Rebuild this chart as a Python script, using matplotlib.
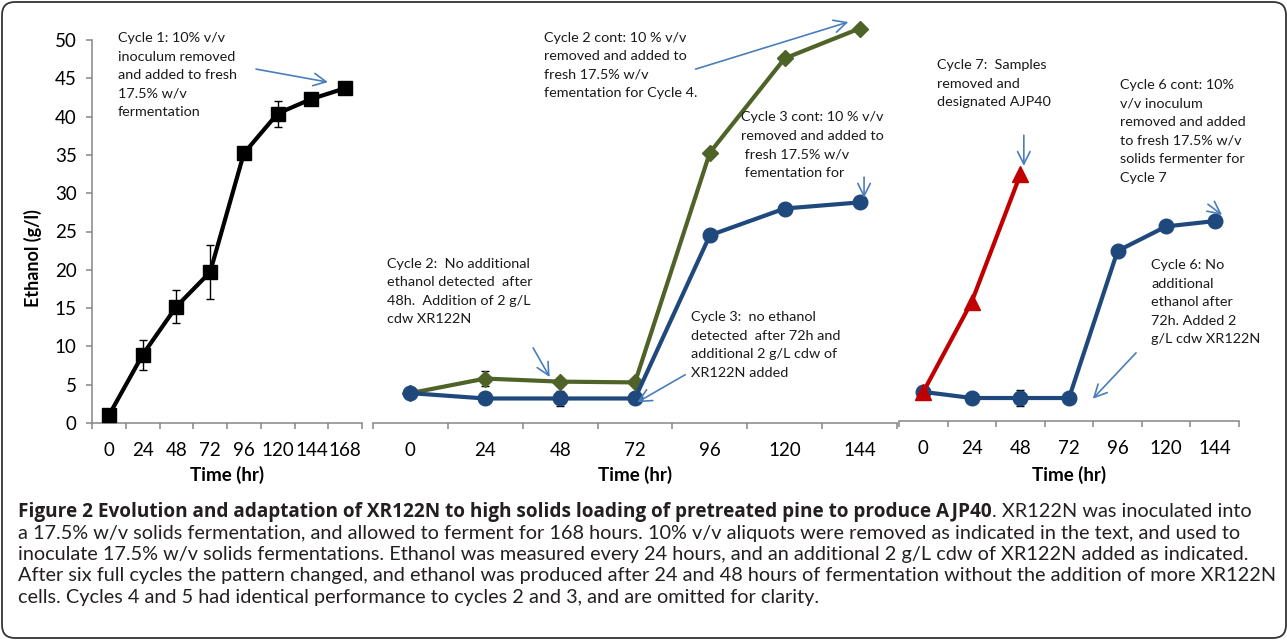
import numpy as np
import matplotlib
matplotlib.use("Agg")
import matplotlib.pyplot as plt
from matplotlib.patches import FancyBboxPatch
from matplotlib.transforms import IdentityTransform

W, H = 1287, 641

# cycle 1 (168 h run)
c1_times = ['0', '24', '48', '72', '96', '120', '144', '168']
c1_ethanol = [1.0, 8.9, 15.2, 19.7, 35.2, 40.4, 42.3, 43.7]
c1_err = [0.2, 2.0, 2.2, 3.5, 0.6, 1.7, 0.4, 0.4]

# cycles 2 and 3
c23_times = ['0', '24', '48', '72', '96', '120', '144']
c2_ethanol = [3.9, 5.8, 5.4, 5.3, 35.3, 47.6, 51.5]
c2_err = [0.2, 1.0, 0.5, 0.3, 0.3, 0.3, 0.3]
c3_ethanol = [3.9, 3.2, 3.2, 3.2, 24.5, 28.0, 28.8]
c3_err = [0.2, 0.2, 1.0, 0.2, 0.2, 0.2, 0.2]

# cycles 6 and 7
c67_times = ['0', '24', '48', '72', '96', '120', '144']
c6_ethanol = [3.8, 3.0, 3.0, 3.0, 22.2, 25.4, 26.1]
c6_err = [0.2, 0.2, 1.1, 0.2, 0.2, 0.2, 0.2]
c7_ethanol = [3.8, 15.6, 32.2]

FONT = 'Lato'
BLACK = '#000000'
GREEN = '#4F6228'
BLUE = '#1F497D'
RED = '#C00000'
ARROW = '#4A7EBB'
AXIS = '#868686'
PX_PER_UNIT = 7.66

plt.rcParams['font.family'] = [FONT, 'DejaVu Sans']

fig = plt.figure(figsize=(W / 100, H / 100), dpi=100)


def px_axes(x0, x1, bottom, ymax):
    top = bottom - ymax * PX_PER_UNIT
    ax = fig.add_axes([x0 / W, 1 - bottom / H, (x1 - x0) / W, (bottom - top) / H])
    ax.set_ylim(0, ymax)
    ax.patch.set_alpha(0)
    for s in ['top', 'right']:
        ax.spines[s].set_visible(False)
    for s in ['left', 'bottom']:
        ax.spines[s].set_color(AXIS)
        ax.spines[s].set_linewidth(1.1)
    return ax


def category_axis(ax, labels):
    n = len(labels)
    ax.set_xlim(-0.5, n - 0.5)
    ax.set_xticks(np.arange(n + 1) - 0.5)
    ax.set_xticklabels([])
    ax.set_xticks(np.arange(n), minor=True)
    ax.set_xticklabels(labels, minor=True, fontsize=13.5)
    ax.tick_params(axis='x', which='major', length=4, color=AXIS, width=1.1, direction='out')
    ax.tick_params(axis='x', which='minor', length=0, pad=14)


def series(ax, y, err, color, marker, ms):
    x = np.arange(len(y))
    if err is not None:
        ax.errorbar(x, y, yerr=err, fmt='none', ecolor='black', elinewidth=1, capsize=3,
                    capthick=1, zorder=2, clip_on=False)
    ax.plot(x, y, color=color, lw=3, marker=marker, ms=ms, mfc=color, mec=color,
            zorder=3, clip_on=False)


def note(ax, x, y, s):
    ax.text(x, y, s, ha='left', va='top', fontsize=10.4, linespacing=1.65, color='#1a1a1a')


def arrow(ax, start, end):
    ax.annotate('', xy=end, xytext=start, annotation_clip=False,
                arrowprops=dict(arrowstyle='->,head_length=0.9,head_width=0.45',
                                color=ARROW, lw=1.2, shrinkA=0, shrinkB=0,
                                mutation_scale=10))


# panel 1
ax1 = px_axes(92, 362, 423, 50)
category_axis(ax1, c1_times)
ax1.set_yticks(np.arange(0, 51, 5))
ax1.tick_params(axis='y', length=4, color=AXIS, width=1.1, labelsize=13.5, pad=7)
series(ax1, c1_ethanol, c1_err, BLACK, 's', 10.5)
note(ax1, 0.27, 51.0, 'Cycle 1: 10% v/v\ninoculum removed\nand added to fresh\n17.5% w/v\nfermentation')
arrow(ax1, (4.36, 46.2), (6.49, 44.5))

# panel 2
ax2 = px_axes(373, 897, 423, 54)
category_axis(ax2, c23_times)
ax2.spines['left'].set_visible(False)
ax2.set_yticks([])
series(ax2, c2_ethanol, c2_err, GREEN, 'D', 8.2)
series(ax2, c3_ethanol, c3_err, BLUE, 'o', 10.5)
note(ax2, 1.78, 51.1, 'Cycle 2 cont: 10 % v/v\nremoved and added to\nfresh 17.5% w/v\nfementation for Cycle 4.')
note(ax2, 4.42, 40.7, 'Cycle 3 cont: 10 % v/v\nremoved and added to\n fresh 17.5% w/v\n fementation for')
note(ax2, -0.31, 21.6, 'Cycle 2:  No additional\nethanol detected  after\n48h.  Addition of 2 g/L\ncdw XR122N')
note(ax2, 3.75, 14.6, 'Cycle 3:  no ethanol\ndetected  after 72h and\nadditional 2 g/L cdw of\nXR122N added')
arrow(ax2, (3.81, 46.2), (5.85, 52.35))
arrow(ax2, (1.64, 9.8), (1.86, 6.0))
arrow(ax2, (3.67, 6.3), (3.03, 2.7))
arrow(ax2, (6.06, 32.1), (6.06, 29.4))

# panel 3
ax3 = px_axes(899, 1239, 421, 54)
category_axis(ax3, c67_times)
ax3.spines['left'].set_visible(False)
ax3.set_yticks([])
series(ax3, c6_ethanol, c6_err, BLUE, 'o', 10.5)
series(ax3, c7_ethanol, None, RED, '^', 11.5)
note(ax3, 0.28, 47.2, 'Cycle 7:  Samples\nremoved and\ndesignated AJP40')
note(ax3, 4.05, 44.6, 'Cycle 6 cont: 10%\nv/v inoculum\nremoved and added\nto fresh 17.5% w/v\nsolids fermenter for\nCycle 7')
note(ax3, 4.69, 21.1, 'Cycle 6: No\nadditional\nethanol after\n72h. Added 2\ng/L cdw XR122N')
arrow(ax3, (2.07, 37.3), (2.07, 33.3))
arrow(ax3, (5.86, 28.3), (6.15, 26.9))
arrow(ax3, (4.38, 8.9), (3.49, 2.9))

# axis titles
fig.text(33 / W, 1 - 258 / H, 'Ethanol (g/l)', rotation=90, ha='center', va='center',
         fontsize=13, fontweight='bold')
for cx in [227, 635, 1069]:
    fig.text(cx / W, 1 - 475 / H, 'Time (hr)', ha='center', va='center',
             fontsize=13.5, fontweight='bold')

# caption
cap_size = 14.3
cap_color = '#231F20'
cap_x = 18
cap_lines = [
    'a 17.5% w/v solids fermentation, and allowed to ferment for 168 hours. 10% v/v aliquots were removed as indicated in the text, and used to',
    'inoculate 17.5% w/v solids fermentations. Ethanol was measured every 24 hours, and an additional 2 g/L cdw of XR122N added as indicated.',
    'After six full cycles the pattern changed, and ethanol was produced after 24 and 48 hours of fermentation without the addition of more XR122N',
    'cells. Cycles 4 and 5 had identical performance to cycles 2 and 3, and are omitted for clarity.',
]
title = fig.text(cap_x / W, 1 - 517 / H,
                 'Figure 2 Evolution and adaptation of XR122N to high solids loading of pretreated pine to produce AJP40',
                 ha='left', va='baseline', fontsize=13.7, fontweight='bold', color=cap_color,
                 family=['Open Sans', 'DejaVu Sans'])
fig.canvas.draw()
bb = title.get_window_extent()
fig.text(bb.x1 / W, 1 - 517 / H, '. XR122N was inoculated into', ha='left', va='baseline',
         fontsize=cap_size, color=cap_color)
for i, line in enumerate(cap_lines):
    fig.text(cap_x / W, 1 - (517 + 21.5 * (i + 1)) / H, line, ha='left', va='baseline',
             fontsize=cap_size, color=cap_color)

# frame
frame = FancyBboxPatch((2, H - 638), 1284, 636, boxstyle='round,pad=0,rounding_size=13',
                       transform=IdentityTransform(), fill=False, ec='#333333', lw=1.3)
fig.add_artist(frame)

fig.savefig('out.png', dpi=100)
